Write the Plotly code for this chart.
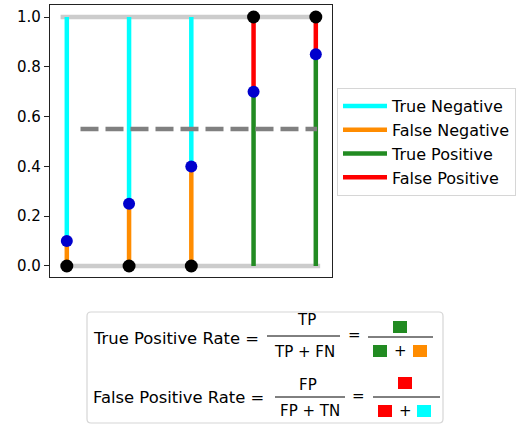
import plotly.graph_objects as go

# ---- data ----
positions = [0, 1, 2, 3, 4]
scores = [0.1, 0.25, 0.4, 0.7, 0.85]
labels = [0, 0, 0, 1, 1]
threshold = 0.55
y_ticks = [0.0, 0.2, 0.4, 0.6, 0.8, 1.0]
legend_names = ["True Negative", "False Negative", "True Positive", "False Positive"]
legend_colors = ["#00FFFF", "#FF8C00", "#228B22", "#FF0000"]

W, H = 517, 425
L, R, T, B = 50, 332, 5, 277  # plot area in pixels


def px(x):
    return (x - L) / (R - L)


def py(y):
    return (B - y) / (B - T)


FONT = "DejaVu Sans"

fig = go.Figure()

# light grey baselines at 0 and 1
x0, x1 = positions[0] - 0.1, positions[-1] + 0.07
for lvl in (0, 1):
    fig.add_trace(go.Scatter(x=[x0, x1], y=[lvl, lvl], mode="lines",
                             line=dict(color="#cccccc", width=4.5),
                             showlegend=False, hoverinfo="skip"))

# stems
seg = {n: ([], []) for n in legend_names}
for p, s, lab in zip(positions, scores, labels):
    if lab == 0:
        seg["True Negative"][0].extend([p, p, None]); seg["True Negative"][1].extend([s, 1, None])
        seg["False Negative"][0].extend([p, p, None]); seg["False Negative"][1].extend([0, s, None])
    else:
        seg["True Positive"][0].extend([p, p, None]); seg["True Positive"][1].extend([0, s, None])
        seg["False Positive"][0].extend([p, p, None]); seg["False Positive"][1].extend([s, 1, None])

for i, (name, col) in enumerate(zip(legend_names, legend_colors)):
    xs, ys = seg[name]
    fig.add_trace(go.Scatter(x=xs, y=ys, mode="lines", name=name,
                             line=dict(color=col, width=4.5),
                             legendgroup=name, legendrank=i + 1, hoverinfo="skip"))

# threshold dashed line
fig.add_trace(go.Scatter(x=[positions[0] + 0.22, positions[-1] + 0.02], y=[threshold, threshold],
                         mode="lines", line=dict(color="#808080", width=4.5, dash="18px,7px"),
                         showlegend=False, hoverinfo="skip"))

# true labels (black) and scores (blue)
fig.add_trace(go.Scatter(x=positions, y=labels, mode="markers",
                         marker=dict(color="black", size=13, line=dict(width=0)),
                         showlegend=False, hoverinfo="skip"))
fig.add_trace(go.Scatter(x=positions, y=scores, mode="markers",
                         marker=dict(color="#0000CD", size=12, line=dict(width=0)),
                         showlegend=False, hoverinfo="skip"))

shapes = []
annotations = []

# formula box (rounded)
bx0, by0, bx1, by1, r = 87, 312, 443, 423, 4
path = (f"M {px(bx0 + r)},{py(by0)} L {px(bx1 - r)},{py(by0)} Q {px(bx1)},{py(by0)} {px(bx1)},{py(by0 + r)} "
        f"L {px(bx1)},{py(by1 - r)} Q {px(bx1)},{py(by1)} {px(bx1 - r)},{py(by1)} "
        f"L {px(bx0 + r)},{py(by1)} Q {px(bx0)},{py(by1)} {px(bx0)},{py(by1 - r)} "
        f"L {px(bx0)},{py(by0 + r)} Q {px(bx0)},{py(by0)} {px(bx0 + r)},{py(by0)} Z")
shapes.append(dict(type="path", xref="paper", yref="paper", path=path,
                   line=dict(color="#d6d6d6", width=1.2), fillcolor="white", layer="below"))


def text(x, y, s, anchor="center", size=15):
    annotations.append(dict(x=px(x), y=py(y), xref="paper", yref="paper", text=s,
                            showarrow=False, xanchor=anchor, yanchor="middle",
                            font=dict(family=FONT, size=size, color="black")))


def hline(xa, xb, y):
    shapes.append(dict(type="line", xref="paper", yref="paper", x0=px(xa), x1=px(xb),
                       y0=py(y), y1=py(y), line=dict(color="black", width=1)))


def square(cx, cy, col, w=14, h=12):
    shapes.append(dict(type="rect", xref="paper", yref="paper",
                       x0=px(cx - w / 2), x1=px(cx + w / 2), y0=py(cy - h / 2), y1=py(cy + h / 2),
                       fillcolor=col, line=dict(width=0)))


tn, fn, tp, fp = legend_colors

# Row 1: TPR
text(91, 338, "True Positive Rate =", anchor="left", size=16.4)
text(306, 320, "TP")
hline(267, 340, 336)
text(304, 352, "TP + FN")
text(354, 335, "=")
hline(368, 433, 337)
square(400, 327, tp)
square(380, 351, tp)
text(400, 351, "+")
square(420, 351, fn)

# Row 2: FPR
text(91, 397, "False Positive Rate =", anchor="left", size=16.4)
text(308, 385, "FP")
hline(275, 345, 397)
text(310, 411, "FP + TN")
text(358, 396, "=")
hline(373, 440, 397)
square(405, 383, fp)
square(385, 411, fp)
text(405, 411, "+")
square(424, 411, tn)

fig.update_layout(
    width=W, height=H,
    margin=dict(l=L, r=W - R, t=T, b=H - B, pad=0, autoexpand=False),
    paper_bgcolor="white", plot_bgcolor="white",
    font=dict(family=FONT, size=15, color="black"),
    showlegend=True,
    legend=dict(x=px(337), y=py(88), xanchor="left", yanchor="top",
                bordercolor="#d6d6d6", borderwidth=1, bgcolor="white",
                font=dict(family=FONT, size=16, color="black"),
                tracegroupgap=5, traceorder="normal", itemwidth=44),
    shapes=shapes, annotations=annotations,
    xaxis=dict(range=[-0.27, 4.26], showgrid=False, zeroline=False, showticklabels=False,
               ticks="", showline=True, mirror=True, linecolor="#222222", linewidth=1.2),
    yaxis=dict(range=[-0.0442, 1.0482], showgrid=False, zeroline=False,
               tickvals=y_ticks, tickformat=".1f", ticks="outside", ticklen=5, tickwidth=1,
               tickcolor="#222222", showline=True, mirror=True, linecolor="#222222", linewidth=1.2,
               tickfont=dict(family=FONT, size=15, color="black")),
)

fig.write_html("out.html", config={"displayModeBar": False},
               post_script="document.body.style.margin='0';")
